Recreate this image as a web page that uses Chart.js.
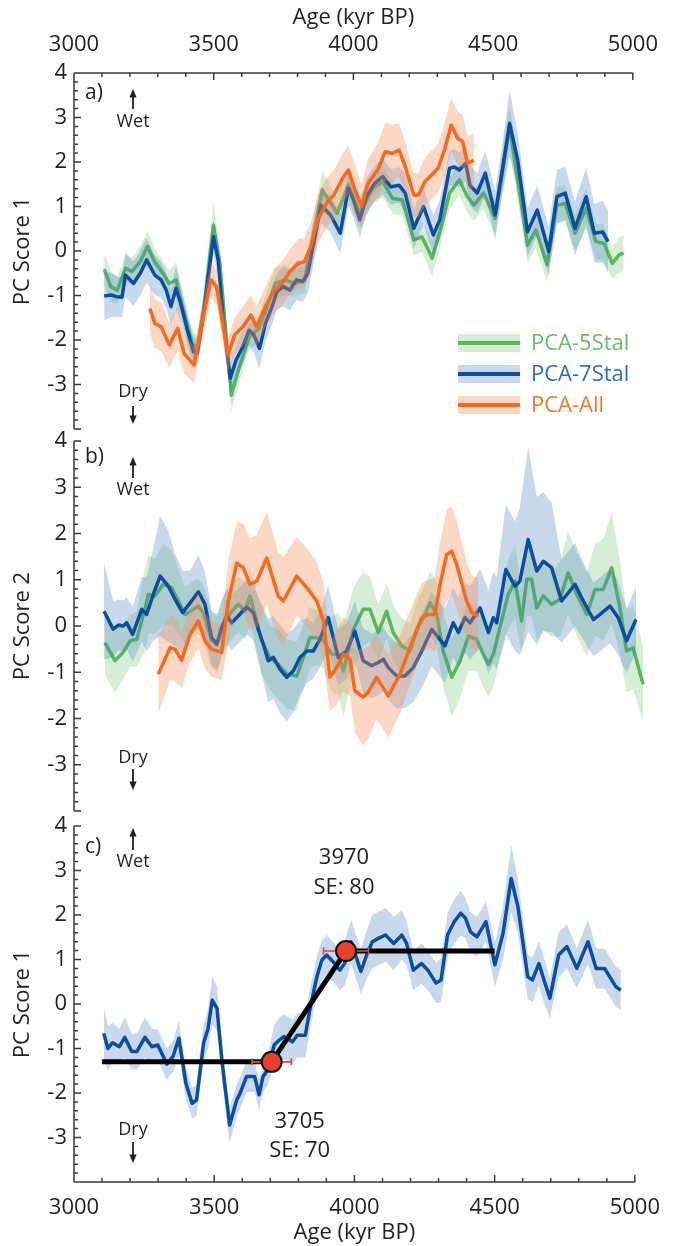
<!DOCTYPE html>
<html>
<head>
<meta charset="utf-8">
<script src="https://cdn.jsdelivr.net/npm/chart.js@4.4.1/dist/chart.umd.min.js"></script>
<style>
  html, body { margin: 0; padding: 0; background: #fff; }
  #wrap { position: relative; width: 673px; height: 1246px; }
  #wrap canvas { position: absolute; left: 0; top: 0; }
</style>
</head>
<body>
<div id="wrap">
  <canvas id="panelA" width="673" height="1246"></canvas>
  <canvas id="panelB" width="673" height="1246"></canvas>
  <canvas id="panelC" width="673" height="1246"></canvas>
</div>
<script>
// ---- panel a : PC score 1 ----
const a5Age = [3108,3132,3155,3184,3207,3237,3263,3289,3318,3341,
  3365,3394,3423,3441,3464,3499,3522,3563,3592,3627,
  3662,3691,3720,3755,3790,3825,3860,3889,3924,3942,
  3982,4023,4070,4105,4140,4175,4216,4245,4282,4315,
  4344,4379,4408,4431,4466,4507,4559,4623,4653,4693,
  4728,4758,4793,4833,4868,4897,4927,4950,4967];
const a5Pc = [-0.41,-0.80,-0.88,-0.39,-0.46,-0.24,0.10,-0.24,-0.50,-0.73,
  -0.65,-1.40,-2.07,-2.22,-1.30,0.58,-0.28,-3.24,-2.60,-1.93,
  -1.74,-1.25,-0.73,-0.65,-0.73,-0.65,0.47,1.37,1.03,0.85,
  1.48,0.85,1.41,1.56,1.18,1.15,0.25,0.32,-0.16,0.55,
  1.30,1.60,1.22,1.03,1.30,0.73,2.79,0.13,0.47,-0.31,
  1.03,1.07,0.40,0.96,0.21,0.17,-0.28,-0.09,-0.05];
const a5Err = [0.35,0.35,0.3,0.3,0.3,0.35,0.35,0.3,0.3,0.3,
  0.4,0.35,0.3,0.3,0.35,0.5,0.4,0.35,0.35,0.3,
  0.3,0.35,0.35,0.35,0.3,0.3,0.4,0.45,0.35,0.35,
  0.35,0.35,0.35,0.35,0.35,0.35,0.35,0.35,0.4,0.35,
  0.35,0.35,0.35,0.35,0.35,0.4,0.5,0.4,0.4,0.4,
  0.4,0.4,0.4,0.45,0.4,0.4,0.35,0.4,0.4];

const a7Age = [3108,3132,3155,3172,3184,3213,3237,3260,3289,3312,
  3330,3347,3365,3382,3406,3427,3441,3464,3499,3516,
  3534,3559,3580,3604,3627,3644,3664,3685,3709,3726,
  3749,3773,3796,3819,3837,3860,3884,3918,3953,3982,
  4000,4023,4046,4076,4105,4134,4163,4186,4216,4251,
  4286,4309,4344,4361,4379,4402,4417,4443,4472,4507,
  4530,4559,4588,4623,4658,4699,4728,4758,4793,4833,
  4862,4892,4911];
const a7Pc = [-1.01,-0.99,-1.03,-1.04,-0.54,-0.73,-0.50,-0.20,-0.54,-0.65,
  -0.88,-1.25,-0.84,-1.18,-1.78,-2.26,-2.30,-1.40,0.32,-0.20,
  -1.55,-2.86,-2.45,-2.15,-1.78,-1.89,-2.19,-1.63,-1.25,-0.91,
  -0.80,-0.88,-0.65,-0.69,-0.50,0.25,1.03,0.81,0.40,1.41,
  1.15,0.70,1.22,1.52,1.67,1.44,1.48,1.30,0.51,1.00,
  0.36,0.70,1.86,1.89,1.82,1.97,1.48,1.30,1.75,0.81,
  1.71,2.87,2.04,0.43,0.92,-0.01,1.22,1.30,0.51,1.22,
  0.40,0.43,0.21];
const a7Err = [0.55,0.5,0.45,0.45,0.5,0.5,0.5,0.5,0.45,0.4,
  0.4,0.4,0.5,0.4,0.35,0.35,0.3,0.35,0.4,0.4,
  0.35,0.35,0.35,0.4,0.35,0.4,0.45,0.4,0.4,0.4,
  0.45,0.45,0.45,0.45,0.45,0.45,0.4,0.4,0.45,0.4,
  0.4,0.4,0.4,0.4,0.4,0.4,0.4,0.45,0.45,0.4,
  0.45,0.45,0.4,0.4,0.4,0.4,0.45,0.45,0.5,0.55,
  0.55,0.75,0.6,0.55,0.55,0.55,0.6,0.6,0.6,0.65,
  0.65,0.7,0.7];

const aAllAge = [3272,3289,3312,3341,3371,3394,3429,3458,3490,3510,
  3551,3575,3604,3633,3653,3685,3714,3744,3773,3802,
  3825,3849,3872,3907,3930,3965,3982,4006,4029,4052,
  4087,4114,4140,4163,4186,4216,4233,4256,4280,4303,
  4326,4350,4373,4391,4408,4431];
const aAllPc = [-1.29,-1.63,-1.70,-2.11,-1.74,-2.30,-2.56,-1.63,-0.65,-0.80,
  -2.34,-1.89,-1.70,-1.44,-1.70,-1.25,-0.91,-0.73,-0.46,-0.28,
  -0.24,0.13,0.70,1.11,1.26,1.67,1.82,1.37,1.00,1.52,
  1.82,2.23,2.19,2.27,1.89,1.26,1.26,1.56,1.71,1.86,
  2.27,2.83,2.53,2.46,1.97,2.04];
const aAllErr = [0.55,0.55,0.55,0.5,0.5,0.45,0.4,0.4,0.4,0.4,
  0.4,0.4,0.45,0.45,0.45,0.45,0.5,0.5,0.5,0.55,
  0.55,0.55,0.55,0.55,0.55,0.55,0.55,0.55,0.5,0.55,
  0.6,0.65,0.65,0.6,0.55,0.5,0.5,0.55,0.55,0.55,
  0.6,0.6,0.6,0.6,0.6,0.6];

// ---- panel b : PC score 2 ----
const b5Age = [3108,3143,3172,3196,3219,3248,3260,3283,3312,3341,
  3365,3388,3406,3435,3452,3481,3505,3522,3551,3575,
  3598,3615,3633,3656,3685,3714,3744,3779,3802,3825,
  3849,3872,3901,3924,3942,3977,4011,4035,4064,4093,
  4116,4146,4175,4198,4227,4245,4268,4291,4321,4350,
  4379,4408,4431,4449,4466,4489,4518,4542,4565,4583,
  4600,4618,4641,4670,4699,4728,4758,4793,4822,4851,
  4880,4909,4932,4955,4990];
const b5Pc = [-0.36,-0.75,-0.57,-0.32,-0.29,0.36,0.68,0.65,0.90,0.83,
  0.54,0.25,0.32,0.43,0.29,-0.32,-0.32,0.04,0.32,0.47,
  0.32,0.65,0.25,-0.32,-0.68,-0.83,-1.04,-1.08,-0.68,-0.25,
  -0.25,-0.32,-0.61,-0.61,-0.97,-0.07,0.36,0.36,-0.14,0.32,
  -0.14,-0.43,-0.54,-0.07,0.25,0.50,0.25,-0.54,-1.11,-0.75,
  -0.22,-0.29,-0.61,-0.83,-0.61,-0.04,0.68,0.97,0.11,1.01,
  1.01,0.39,0.65,0.47,0.58,1.15,0.68,0.25,0.79,0.79,
  1.26,0.39,-0.54,-0.47,-1.26];
const b5Err = [0.7,0.7,0.6,0.55,0.6,0.9,0.85,0.8,0.9,0.8,
  0.7,0.6,0.6,0.6,0.6,0.6,0.6,0.6,0.6,0.6,
  0.6,0.6,0.6,0.7,0.7,0.75,0.75,0.75,0.7,0.65,
  0.6,0.6,0.8,0.9,1.0,0.9,0.8,0.7,0.6,0.6,
  0.6,0.6,0.6,0.6,0.65,0.7,0.7,0.8,0.85,0.8,
  0.75,0.7,0.7,0.7,0.7,0.7,0.75,0.8,0.7,0.8,
  0.8,0.7,0.75,0.7,0.8,0.9,0.9,0.9,1.0,1.1,
  1.2,1.0,0.9,0.9,0.8];

const b7Age = [3105,3137,3155,3172,3184,3205,3237,3254,3277,3301,
  3330,3353,3380,3406,3435,3458,3481,3499,3516,3534,
  3551,3575,3604,3627,3644,3662,3679,3697,3720,3744,
  3767,3790,3814,3837,3860,3889,3924,3953,3982,4011,
  4041,4064,4082,4099,4128,4157,4186,4216,4251,4274,
  4297,4326,4344,4367,4385,4420,4449,4466,4478,4510,
  4542,4559,4588,4618,4641,4670,4705,4752,4775,4816,
  4839,4874,4903,4932,4965];
const b7Pc = [0.32,-0.07,0.02,0.00,0.07,-0.18,0.36,0.25,0.68,1.08,
  0.86,0.58,0.29,0.50,0.74,0.47,-0.25,-0.40,-0.04,0.22,
  0.07,0.22,0.41,0.29,-0.07,-0.39,-0.75,-0.68,-0.93,-1.11,
  -0.97,-0.68,-0.54,-0.54,-0.29,0.18,-0.68,-0.54,-0.11,-0.75,
  -0.86,-0.79,-0.72,-0.90,-1.08,-1.08,-0.90,-0.54,-0.07,-0.25,
  -0.43,0.07,-0.14,0.18,0.07,0.39,-0.14,0.18,0.07,1.22,
  0.86,0.97,1.87,1.19,1.40,1.26,0.54,0.90,0.61,0.14,
  0.25,0.43,0.18,-0.32,0.14];
const b7Err = [1.05,0.6,0.55,0.55,0.55,0.6,0.7,0.8,1.0,1.3,
  1.2,1.0,0.9,0.7,0.8,0.7,0.6,0.6,0.6,0.6,
  0.6,0.6,0.6,0.6,0.7,0.8,0.9,0.9,0.95,0.95,
  0.9,0.8,0.7,0.6,0.6,0.7,0.6,0.6,0.65,0.7,
  0.7,0.7,0.7,0.7,0.7,0.7,0.75,0.8,0.8,0.8,
  0.8,0.75,0.75,0.75,0.8,0.85,0.9,1.0,1.0,1.4,
  1.4,1.6,2.0,1.6,1.5,1.4,0.9,0.9,0.85,0.8,
  0.8,0.8,0.8,0.7,0.7];

const bAllAge = [3295,3336,3353,3376,3406,3435,3458,3481,3516,3540,
  3569,3592,3615,3639,3674,3714,3732,3779,3814,3849,
  3872,3895,3918,3942,3965,3982,4011,4029,4058,4099,
  4140,4175,4216,4239,4262,4280,4303,4321,4338,4373,
  4391,4414];
const bAllPc = [-1.04,-0.47,-0.50,-0.74,-0.18,0.11,-0.32,-0.50,-0.57,0.54,
  1.36,1.26,0.90,0.97,1.47,0.65,0.54,1.08,0.83,0.54,
  0.11,-1.11,-0.90,-0.61,-0.72,-1.40,-1.54,-1.43,-1.11,-1.51,
  -1.04,-0.47,0.18,0.25,0.25,0.90,1.54,1.62,1.33,0.54,
  0.29,0.22];
const bAllErr = [0.85,0.7,0.7,0.6,0.6,0.6,0.6,0.6,0.6,0.9,
  0.9,0.95,1.0,1.0,1.0,0.95,0.95,0.85,0.85,0.85,
  0.85,0.75,0.8,0.8,0.8,0.9,1.05,1.0,0.9,0.9,
  0.85,0.8,0.75,0.75,0.8,0.9,1.0,0.95,0.95,0.85,
  0.8,0.8];

// ---- panel c : PC score 1 (7 stal) + breakpoint fit ----
const cAge = [3106,3121,3137,3162,3181,3206,3224,3253,3278,3299,
  3331,3353,3374,3399,3421,3437,3462,3478,3493,3510,
  3528,3555,3580,3592,3615,3644,3660,3674,3691,3714,
  3732,3749,3779,3796,3825,3843,3866,3884,3901,3924,
  3948,3965,3988,4006,4023,4046,4064,4087,4111,4140,
  4169,4186,4210,4239,4262,4291,4309,4332,4356,4379,
  4396,4414,4437,4469,4501,4530,4559,4583,4618,4635,
  4658,4676,4697,4728,4758,4793,4833,4862,4892,4932,
  4950];
const cPc = [-0.66,-1.00,-0.87,-0.96,-0.75,-1.07,-1.07,-0.75,-0.96,-0.92,
  -1.35,-1.18,-0.77,-1.78,-2.23,-2.16,-0.88,-0.55,0.09,-0.10,
  -1.30,-2.72,-2.16,-2.01,-1.63,-1.63,-2.04,-1.63,-1.48,-0.92,
  -0.81,-0.73,-0.85,-0.70,-0.70,-0.06,0.61,0.99,1.10,0.95,
  0.76,0.91,1.40,1.06,0.73,1.14,1.40,1.48,1.55,1.36,
  1.55,1.36,0.76,0.91,0.76,0.47,0.54,1.55,1.85,2.04,
  1.93,1.62,1.51,1.85,0.88,1.59,2.82,2.19,0.61,0.54,
  0.91,0.54,0.13,1.10,1.29,0.80,1.40,0.80,0.80,0.39,
  0.31];
const cErr = [0.6,0.5,0.45,0.4,0.45,0.4,0.4,0.45,0.4,0.35,
  0.35,0.35,0.4,0.35,0.35,0.35,0.4,0.45,0.55,0.5,
  0.4,0.4,0.35,0.35,0.35,0.35,0.35,0.35,0.35,0.45,
  0.5,0.5,0.5,0.5,0.5,0.45,0.45,0.45,0.45,0.45,
  0.45,0.5,0.5,0.5,0.5,0.55,0.6,0.6,0.6,0.6,
  0.55,0.5,0.45,0.45,0.45,0.45,0.5,0.5,0.5,0.5,
  0.45,0.45,0.45,0.45,0.5,0.6,0.75,0.6,0.5,0.5,
  0.5,0.5,0.45,0.5,0.5,0.45,0.5,0.45,0.45,0.45,
  0.45];

const fitAge = [3100, 3705, 3970, 4500];
const fitPc = [-1.30, -1.30, 1.19, 1.19];
const breakAge = [3705, 3970];
const breakPc = [-1.30, 1.19];
const breakSe = [70, 80];

const seriesNames = ['PCA-5Stal', 'PCA-7Stal', 'PCA-All'];
const xTicks = [3000, 3500, 4000, 4500, 5000];

// ---- styling ----
const FONT = "'Open Sans', 'Noto Sans', sans-serif";
const INK = '#231f20';
const AXIS = '#3a3a3a';
const LINE = ['#5cb55f', '#0f4d9c', '#f26b21'];
const TEXT = ['#66bd69', '#2a70bd', '#f3772f'];
const BAND = ['rgba(120,200,120,0.30)', 'rgba(70,130,190,0.30)', 'rgba(245,140,90,0.35)'];

const pts = (xs, ys) => xs.map((x, i) => ({x, y: ys[i]}));

// three datasets per series: lower edge, upper edge (filled to lower), centre line
function seriesSets(start, xs, ys, es, k, order) {
  return [
    {data: pts(xs, ys.map((y, i) => y - es[i])), borderColor: 'rgba(0,0,0,0)', borderWidth: 0,
     pointRadius: 0, fill: false, order: order + 1},
    {data: pts(xs, ys.map((y, i) => y + es[i])), borderColor: 'rgba(0,0,0,0)', borderWidth: 0,
     pointRadius: 0, backgroundColor: BAND[k], fill: start, order: order + 1},
    {data: pts(xs, ys), borderColor: LINE[k], borderWidth: 3.5, borderJoinStyle: 'round',
     pointRadius: 0, fill: false, order: order}
  ];
}

function arrow(ctx, x, y1, y2) {
  const d = Math.sign(y2 - y1);
  ctx.lineWidth = 1.8;
  ctx.beginPath(); ctx.moveTo(x, y1); ctx.lineTo(x, y2 - d * 6); ctx.stroke();
  ctx.beginPath(); ctx.moveTo(x, y2); ctx.lineTo(x - 3.6, y2 - d * 8.5); ctx.lineTo(x + 3.6, y2 - d * 8.5);
  ctx.closePath(); ctx.fill();
}

// axes with inward ticks + panel annotations
const framePlugin = {
  id: 'frame',
  afterDraw(chart, args, o) {
    const {ctx, chartArea: a} = chart;
    const xs = chart.scales.x, ys = chart.scales.y;
    ctx.save();
    ctx.strokeStyle = AXIS; ctx.fillStyle = INK; ctx.lineWidth = 1.5;
    ctx.beginPath();
    ctx.moveTo(a.left, a.top); ctx.lineTo(a.left, a.bottom);
    for (let k = -20; k <= 20; k++) {
      const py = ys.getPixelForValue(k / 5);
      ctx.moveTo(a.left, py); ctx.lineTo(a.left + (k % 5 === 0 ? 7 : 4), py);
    }
    if (o.edge) {
      const yy = o.edge === 'top' ? a.top : a.bottom, d = o.edge === 'top' ? 1 : -1;
      ctx.moveTo(a.left, yy); ctx.lineTo(a.right, yy);
      for (let k = 0; k <= 20; k++) {
        const px = xs.getPixelForValue(3000 + k * 100);
        ctx.moveTo(px, yy); ctx.lineTo(px, yy + d * (k % 5 === 0 ? 7 : 4));
      }
    }
    ctx.stroke();

    ctx.strokeStyle = INK;
    ctx.textBaseline = 'middle';
    ctx.textAlign = 'left';
    ctx.font = '21px ' + FONT;
    ctx.fillText(o.letter, a.left + 11, a.top + o.letterY);
    ctx.textAlign = 'center';
    ctx.font = '18px ' + FONT;
    const ax = a.left + 59;
    arrow(ctx, ax, a.top + o.upArrow[1], a.top + o.upArrow[0]);
    ctx.fillText('Wet', ax, a.top + o.wetY);
    ctx.fillText('Dry', ax, a.bottom - o.dryY);
    arrow(ctx, ax, a.bottom - o.downArrow[0], a.bottom - o.downArrow[1]);
    ctx.restore();
  }
};

const legendPlugin = {
  id: 'bandLegend',
  afterDatasetsDraw(chart, args, o) {
    if (!o.show) return;
    const {ctx} = chart;
    ctx.save();
    ctx.font = '22px ' + FONT;
    ctx.textBaseline = 'middle';
    ctx.textAlign = 'left';
    seriesNames.forEach((name, k) => {
      const cy = o.y + k * o.step;
      ctx.fillStyle = BAND[k];
      ctx.fillRect(o.x, cy - 9, o.w, 18);
      ctx.strokeStyle = LINE[k]; ctx.lineWidth = 4;
      ctx.beginPath(); ctx.moveTo(o.x, cy); ctx.lineTo(o.x + o.w, cy); ctx.stroke();
      ctx.fillStyle = TEXT[k];
      ctx.fillText(name, o.x + o.w + 11, cy + 1);
    });
    ctx.restore();
  }
};

// breakpoint SE bars (drawn just under the markers) and their labels
const breakPlugin = {
  id: 'breaks',
  beforeDatasetDraw(chart, args) {
    if (!chart.data.datasets[args.index].isBreak) return;
    const {ctx} = chart;
    const xs = chart.scales.x, ys = chart.scales.y;
    ctx.save();
    ctx.strokeStyle = '#e2473a'; ctx.lineWidth = 1.6;
    breakAge.forEach((age, i) => {
      const y = ys.getPixelForValue(breakPc[i]);
      const x0 = xs.getPixelForValue(age - breakSe[i]);
      const x1 = xs.getPixelForValue(age + breakSe[i]);
      ctx.beginPath();
      ctx.moveTo(x0, y); ctx.lineTo(x1, y);
      ctx.moveTo(x0, y - 3.5); ctx.lineTo(x0, y + 3.5);
      ctx.moveTo(x1, y - 3.5); ctx.lineTo(x1, y + 3.5);
      ctx.stroke();
    });
    ctx.restore();
  },
  afterDatasetsDraw(chart, args, o) {
    if (!o.labels) return;
    const {ctx} = chart;
    const xs = chart.scales.x, ys = chart.scales.y;
    ctx.save();
    ctx.fillStyle = INK;
    ctx.font = '22px ' + FONT;
    ctx.textAlign = 'center'; ctx.textBaseline = 'middle';
    breakAge.forEach((age, i) => {
      const x = xs.getPixelForValue(age) + o.labels[i].dx;
      const y = ys.getPixelForValue(breakPc[i]);
      ctx.fillText(String(age), x, y + o.labels[i].dy[0]);
      ctx.fillText('SE: ' + breakSe[i], x, y + o.labels[i].dy[1]);
    });
    ctx.restore();
  }
};

const tickFont = {family: FONT, size: 22};

function makePanel(id, datasets, p) {
  const xScale = {
    type: 'linear', min: 3000, max: 5000,
    display: !!p.edge,
    position: p.edge || 'bottom',
    afterFit: s => { s.height = p.xHeight || 0; },
    grid: {display: false, drawTicks: false},
    border: {display: false},
    ticks: {stepSize: 500, padding: p.edge === 'top' ? 15 : 13, color: INK, font: tickFont,
            maxRotation: 0, autoSkip: false, callback: v => xTicks.includes(v) ? String(v) : null},
    title: {display: true, text: 'Age (kyr BP)', color: INK, font: tickFont,
            padding: p.edge === 'top' ? {top: 5, bottom: 0} : {top: 0, bottom: 0}}
  };
  return new Chart(document.getElementById(id), {
    type: 'line',
    data: {datasets},
    options: {
      responsive: false, animation: false, events: [],
      layout: {padding: p.pad},
      scales: {
        x: xScale,
        y: {
          type: 'linear', min: -4, max: 4,
          afterFit: s => { s.width = 74; },
          grid: {display: false, drawTicks: false},
          border: {display: false},
          ticks: {stepSize: 1, padding: 7, color: INK, font: tickFont,
                  callback: v => v === -4 ? null : String(v)},
          title: {display: true, text: p.yTitle, color: INK, font: tickFont, padding: {top: 10, bottom: 0}}
        }
      },
      plugins: {
        legend: {display: false},
        tooltip: {enabled: false},
        frame: p.frame,
        bandLegend: p.legend || {show: false},
        breaks: p.breaks || {}
      }
    },
    plugins: [framePlugin, legendPlugin, breakPlugin]
  });
}

// panel a
makePanel('panelA', [
  ...seriesSets(0, a5Age, a5Pc, a5Err, 0, 5),
  ...seriesSets(3, a7Age, a7Pc, a7Err, 1, 3),
  ...seriesSets(6, aAllAge, aAllPc, aAllErr, 2, 1)
], {
  edge: 'top', xHeight: 73, yTitle: 'PC Score 1',
  pad: {top: 0, right: 27, bottom: 817, left: 0},
  frame: {edge: 'top', letter: 'a)', letterY: 20, upArrow: [16, 36], wetY: 49, dryY: 37, downArrow: [23, 5]},
  legend: {show: true, x: 458, y: 343, step: 31, w: 62}
});

// panel b
makePanel('panelB', [
  ...seriesSets(0, b5Age, b5Pc, b5Err, 0, 5),
  ...seriesSets(3, b7Age, b7Pc, b7Err, 1, 3),
  ...seriesSets(6, bAllAge, bAllPc, bAllErr, 2, 1)
], {
  edge: null, yTitle: 'PC Score 2',
  pad: {top: 441, right: 27, bottom: 435, left: 0},
  frame: {edge: null, letter: 'b)', letterY: 16, upArrow: [16, 37], wetY: 49, dryY: 53, downArrow: [42, 21]}
});

// panel c
makePanel('panelC', [
  ...seriesSets(0, cAge, cPc, cErr, 1, 4),
  {data: pts(fitAge, fitPc), borderColor: '#000', borderWidth: 5, pointRadius: 0, fill: false, order: 2},
  {data: pts(breakAge, breakPc), isBreak: true, showLine: false, pointRadius: 10,
   pointBackgroundColor: '#e8402f', pointBorderColor: '#111', pointBorderWidth: 2, order: 0}
], {
  edge: 'bottom', xHeight: 64, yTitle: 'PC Score 1',
  pad: {top: 826, right: 27, bottom: 0, left: 0},
  frame: {edge: 'bottom', letter: 'c)', letterY: 21, upArrow: [2, 24], wetY: 36, dryY: 52, downArrow: [40, 19]},
  breaks: {labels: [{dx: 28, dy: [60, 89]}, {dx: -2, dy: [-93, -63]}]}
});
</script>
</body>
</html>
